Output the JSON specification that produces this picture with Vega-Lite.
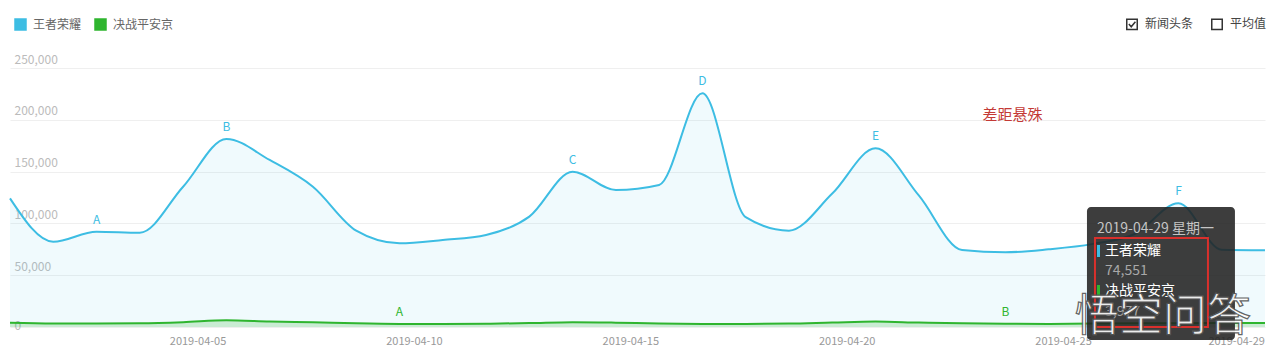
{
  "$schema": "https://vega.github.io/schema/vega-lite/v6.json",
  "width": 1255,
  "height": 259,
  "autosize": {"type": "none"},
  "padding": {"left": 10, "top": 68, "right": 11, "bottom": 29},
  "background": "white",
  "config": {"view": {"stroke": null}, "font": "Noto Sans CJK SC"},
  "datasets": {
    "series": [
      {"date": "2019-04-01T00:00:00", "series": "王者荣耀", "value": 124200},
      {"date": "2019-04-02T00:00:00", "series": "王者荣耀", "value": 82300},
      {"date": "2019-04-03T00:00:00", "series": "王者荣耀", "value": 92000},
      {"date": "2019-04-04T00:00:00", "series": "王者荣耀", "value": 91000},
      {"date": "2019-04-05T00:00:00", "series": "王者荣耀", "value": 135400},
      {"date": "2019-04-06T00:00:00", "series": "王者荣耀", "value": 181500},
      {"date": "2019-04-07T00:00:00", "series": "王者荣耀", "value": 161200},
      {"date": "2019-04-08T00:00:00", "series": "王者荣耀", "value": 135400},
      {"date": "2019-04-09T00:00:00", "series": "王者荣耀", "value": 93000},
      {"date": "2019-04-10T00:00:00", "series": "王者荣耀", "value": 80800},
      {"date": "2019-04-11T00:00:00", "series": "王者荣耀", "value": 84000},
      {"date": "2019-04-12T00:00:00", "series": "王者荣耀", "value": 88800},
      {"date": "2019-04-13T00:00:00", "series": "王者荣耀", "value": 106500},
      {"date": "2019-04-14T00:00:00", "series": "王者荣耀", "value": 149900},
      {"date": "2019-04-15T00:00:00", "series": "王者荣耀", "value": 132200},
      {"date": "2019-04-16T00:00:00", "series": "王者荣耀", "value": 137100},
      {"date": "2019-04-17T00:00:00", "series": "王者荣耀", "value": 225600},
      {"date": "2019-04-18T00:00:00", "series": "王者荣耀", "value": 106000},
      {"date": "2019-04-19T00:00:00", "series": "王者荣耀", "value": 93000},
      {"date": "2019-04-20T00:00:00", "series": "王者荣耀", "value": 128800},
      {"date": "2019-04-21T00:00:00", "series": "王者荣耀", "value": 172500},
      {"date": "2019-04-22T00:00:00", "series": "王者荣耀", "value": 127000},
      {"date": "2019-04-23T00:00:00", "series": "王者荣耀", "value": 74300},
      {"date": "2019-04-24T00:00:00", "series": "王者荣耀", "value": 72100},
      {"date": "2019-04-25T00:00:00", "series": "王者荣耀", "value": 75000},
      {"date": "2019-04-26T00:00:00", "series": "王者荣耀", "value": 80000},
      {"date": "2019-04-27T00:00:00", "series": "王者荣耀", "value": 90000},
      {"date": "2019-04-28T00:00:00", "series": "王者荣耀", "value": 119400},
      {"date": "2019-04-29T00:00:00", "series": "王者荣耀", "value": 74551},
      {"date": "2019-04-30T00:00:00", "series": "王者荣耀", "value": 74000},
      {"date": "2019-04-01T00:00:00", "series": "决战平安京", "value": 4000},
      {"date": "2019-04-02T00:00:00", "series": "决战平安京", "value": 3300},
      {"date": "2019-04-03T00:00:00", "series": "决战平安京", "value": 3300},
      {"date": "2019-04-04T00:00:00", "series": "决战平安京", "value": 3500},
      {"date": "2019-04-05T00:00:00", "series": "决战平安京", "value": 4600},
      {"date": "2019-04-06T00:00:00", "series": "决战平安京", "value": 6500},
      {"date": "2019-04-07T00:00:00", "series": "决战平安京", "value": 5300},
      {"date": "2019-04-08T00:00:00", "series": "决战平安京", "value": 4500},
      {"date": "2019-04-09T00:00:00", "series": "决战平安京", "value": 3500},
      {"date": "2019-04-10T00:00:00", "series": "决战平安京", "value": 3000},
      {"date": "2019-04-11T00:00:00", "series": "决战平安京", "value": 3000},
      {"date": "2019-04-12T00:00:00", "series": "决战平安京", "value": 3200},
      {"date": "2019-04-13T00:00:00", "series": "决战平安京", "value": 3800},
      {"date": "2019-04-14T00:00:00", "series": "决战平安京", "value": 4700},
      {"date": "2019-04-15T00:00:00", "series": "决战平安京", "value": 4200},
      {"date": "2019-04-16T00:00:00", "series": "决战平安京", "value": 3300},
      {"date": "2019-04-17T00:00:00", "series": "决战平安京", "value": 3000},
      {"date": "2019-04-18T00:00:00", "series": "决战平安京", "value": 3000},
      {"date": "2019-04-19T00:00:00", "series": "决战平安京", "value": 3300},
      {"date": "2019-04-20T00:00:00", "series": "决战平安京", "value": 4300},
      {"date": "2019-04-21T00:00:00", "series": "决战平安京", "value": 5200},
      {"date": "2019-04-22T00:00:00", "series": "决战平安京", "value": 4300},
      {"date": "2019-04-23T00:00:00", "series": "决战平安京", "value": 3600},
      {"date": "2019-04-24T00:00:00", "series": "决战平安京", "value": 3200},
      {"date": "2019-04-25T00:00:00", "series": "决战平安京", "value": 3000},
      {"date": "2019-04-26T00:00:00", "series": "决战平安京", "value": 3300},
      {"date": "2019-04-27T00:00:00", "series": "决战平安京", "value": 3600},
      {"date": "2019-04-28T00:00:00", "series": "决战平安京", "value": 3700},
      {"date": "2019-04-29T00:00:00", "series": "决战平安京", "value": 3977},
      {"date": "2019-04-30T00:00:00", "series": "决战平安京", "value": 3800}
    ],
    "letters": [
      {"date": "2019-04-03T00:00:00", "series": "王者荣耀", "value": 92000, "label": "A"},
      {"date": "2019-04-06T00:00:00", "series": "王者荣耀", "value": 181500, "label": "B"},
      {"date": "2019-04-14T00:00:00", "series": "王者荣耀", "value": 149900, "label": "C"},
      {"date": "2019-04-17T00:00:00", "series": "王者荣耀", "value": 225600, "label": "D"},
      {"date": "2019-04-21T00:00:00", "series": "王者荣耀", "value": 172500, "label": "E"},
      {"date": "2019-04-28T00:00:00", "series": "王者荣耀", "value": 119400, "label": "F"},
      {"date": "2019-04-10T00:00:00", "series": "决战平安京", "value": 3000, "label": "A"},
      {"date": "2019-04-24T00:00:00", "series": "决战平安京", "value": 3200, "label": "B"}
    ]
  },
  "layer": [
    {
      "data": {"name": "series"},
      "transform": [{"filter": "datum.series === '王者荣耀'"}],
      "mark": {"type": "area", "interpolate": "monotone", "fillOpacity": 0.08},
      "encoding": {
        "x": {
          "field": "date", "type": "temporal", "title": null,
          "scale": {"domain": [{"year": 2019, "month": 4, "date": 1}, {"year": 2019, "month": 4, "date": 30}]},
          "axis": {
            "values": [
              {"year": 2019, "month": 4, "date": 5, "hours": 8},
              {"year": 2019, "month": 4, "date": 10, "hours": 8},
              {"year": 2019, "month": 4, "date": 15, "hours": 8},
              {"year": 2019, "month": 4, "date": 20, "hours": 8},
              {"year": 2019, "month": 4, "date": 25, "hours": 8},
              {"year": 2019, "month": 4, "date": 29, "hours": 8}
            ],
            "format": "%Y-%m-%d", "grid": false, "domain": false, "ticks": false,
            "labelPadding": 8, "labelFontSize": 11, "labelColor": "#999999", "labelFlush": false, "labelOverlap": false
          }
        },
        "y": {
          "field": "value", "type": "quantitative", "title": null, "stack": null,
          "scale": {"domain": [0, 250000], "nice": false},
          "axis": {
            "values": [0, 50000, 100000, 150000, 200000, 250000],
            "format": ",d", "grid": true, "gridColor": "#efefef", "domain": false, "ticks": false,
            "labelAlign": "left", "labelBaseline": "bottom", "labelPadding": -4,
            "labelOffset": {"condition": {"test": "datum.value === 0", "value": 5}, "value": -2},
            "labelFontSize": 12, "labelColor": "#bbbbbb", "zindex": 0
          }
        },
        "color": {
          "field": "series", "type": "nominal",
          "scale": {"domain": ["王者荣耀", "决战平安京"], "range": ["#3dbde3", "#2fb52f"]},
          "legend": {
            "orient": "none", "legendX": 4, "legendY": -50, "direction": "horizontal", "title": null,
            "symbolType": "square", "symbolSize": 121, "labelFontSize": 12, "labelColor": "#666666",
            "labelOffset": 6, "columnPadding": 10, "padding": 0,
            "encode": {"symbols": {"update": {"fill": {"scale": "color", "field": "value"}, "stroke": {"value": "transparent"}, "opacity": {"value": 1}, "fillOpacity": {"value": 1}, "shape": {"value": "square"}}}}
          }
        }
      }
    },
    {
      "data": {"name": "series"},
      "transform": [{"filter": "datum.series === '决战平安京'"}],
      "mark": {"type": "area", "interpolate": "monotone", "fillOpacity": 0.2},
      "encoding": {
        "x": {"field": "date", "type": "temporal", "title": null},
        "y": {"field": "value", "type": "quantitative", "title": null, "stack": null},
        "color": {"field": "series", "type": "nominal"}
      }
    },
    {
      "data": {"name": "series"},
      "mark": {"type": "line", "interpolate": "monotone", "strokeWidth": 2},
      "encoding": {
        "x": {"field": "date", "type": "temporal", "title": null},
        "y": {"field": "value", "type": "quantitative", "title": null},
        "color": {"field": "series", "type": "nominal"}
      }
    },
    {
      "data": {"name": "letters"},
      "mark": {"type": "text", "fontSize": 12, "dy": -12, "align": "center", "baseline": "middle"},
      "encoding": {
        "x": {"field": "date", "type": "temporal", "title": null},
        "y": {"field": "value", "type": "quantitative", "title": null},
        "color": {"field": "series", "type": "nominal"},
        "text": {"field": "label"}
      }
    },
    {
      "data": {"values": [{"x": "2019-04-24T04:00:00", "v": 204600, "t": "差距悬殊"}]},
      "mark": {"type": "text", "fontSize": 15, "color": "#c43a36", "align": "center", "baseline": "middle"},
      "encoding": {
        "x": {"field": "x", "type": "temporal", "title": null},
        "y": {"field": "v", "type": "quantitative", "title": null},
        "text": {"field": "t"}
      }
    },
    {
      "data": {"values": [{"x0": "2019-04-25T21:16:00", "x1": "2019-04-29T07:20:00", "v0": 115840, "v1": -12550}]},
      "mark": {"type": "rect", "color": "#222222", "opacity": 0.88, "cornerRadius": 4},
      "encoding": {
        "x": {"field": "x0", "type": "temporal", "title": null},
        "x2": {"field": "x1"},
        "y": {"field": "v0", "type": "quantitative", "title": null},
        "y2": {"field": "v1"}
      }
    },
    {
      "data": {"values": [
        {"x0": "2019-04-26T02:50:00", "x1": "2019-04-26T04:29:00", "v0": 79150, "v1": 67570, "series": "王者荣耀"},
        {"x0": "2019-04-26T02:50:00", "x1": "2019-04-26T04:29:00", "v0": 40540, "v1": 28960, "series": "决战平安京"}
      ]},
      "mark": {"type": "rect"},
      "encoding": {
        "x": {"field": "x0", "type": "temporal", "title": null},
        "x2": {"field": "x1"},
        "y": {"field": "v0", "type": "quantitative", "title": null},
        "y2": {"field": "v1"},
        "color": {"field": "series", "type": "nominal"}
      }
    },
    {
      "data": {"values": [{"x": "2019-04-26T02:50:00", "v": 94600, "t": "2019-04-29 星期一"}]},
      "mark": {"type": "text", "fontSize": 14, "color": "#c4c4c4", "align": "left", "baseline": "middle"},
      "encoding": {
        "x": {"field": "x", "type": "temporal", "title": null},
        "y": {"field": "v", "type": "quantitative", "title": null},
        "text": {"field": "t"}
      }
    },
    {
      "data": {"values": [
        {"x": "2019-04-26T07:15:00", "v": 73360, "t": "王者荣耀"},
        {"x": "2019-04-26T07:15:00", "v": 34750, "t": "决战平安京"}
      ]},
      "mark": {"type": "text", "fontSize": 14, "color": "#ffffff", "align": "left", "baseline": "middle"},
      "encoding": {
        "x": {"field": "x", "type": "temporal", "title": null},
        "y": {"field": "v", "type": "quantitative", "title": null},
        "text": {"field": "t"}
      }
    },
    {
      "data": {"values": [
        {"x": "2019-04-26T07:15:00", "v": 54060, "t": "74,551"},
        {"x": "2019-04-26T07:15:00", "v": 14480, "t": "3,977"}
      ]},
      "mark": {"type": "text", "fontSize": 14, "color": "#a8a8a8", "align": "left", "baseline": "middle"},
      "encoding": {
        "x": {"field": "x", "type": "temporal", "title": null},
        "y": {"field": "v", "type": "quantitative", "title": null},
        "text": {"field": "t"}
      }
    },
    {
      "data": {"values": [{"x0": "2019-04-26T01:42:00", "x1": "2019-04-28T16:22:00", "v0": 85910, "v1": 0}]},
      "mark": {"type": "rect", "fill": "transparent", "stroke": "#d9302c", "strokeWidth": 2},
      "encoding": {
        "x": {"field": "x0", "type": "temporal", "title": null},
        "x2": {"field": "x1"},
        "y": {"field": "v0", "type": "quantitative", "title": null},
        "y2": {"field": "v1"}
      }
    },
    {
      "data": {"values": [{"x": "2019-04-27T15:23:00", "v": 8690, "t": "悟空问答"}]},
      "mark": {"type": "text", "fontSize": 44, "fill": "#ffffff", "stroke": "#555555", "strokeWidth": 1.2, "opacity": 0.9, "align": "center", "baseline": "middle"},
      "encoding": {
        "x": {"field": "x", "type": "temporal", "title": null},
        "y": {"field": "v", "type": "quantitative", "title": null},
        "text": {"field": "t"}
      }
    },
    {
      "data": {"values": [{"option": "新闻头条"}, {"option": "平均值"}]},
      "mark": {"type": "point", "filled": false, "color": "#333333", "opacity": 0},
      "encoding": {
        "shape": {
          "field": "option", "type": "nominal",
          "scale": {"domain": ["新闻头条", "平均值"], "range": ["M-1,-1L1,-1L1,1L-1,1Z M-0.6,-0.05L-0.15,0.45L0.65,-0.5", "M-1,-1L1,-1L1,1L-1,1Z"]},
          "legend": {
            "orient": "none", "legendX": 1116, "legendY": -50, "direction": "horizontal", "title": null,
            "symbolSize": 110, "labelFontSize": 12, "labelColor": "#444444", "labelOffset": 7,
            "columnPadding": 14, "padding": 0,
            "encode": {"symbols": {"update": {"stroke": {"value": "#333333"}, "fill": {"value": "transparent"}, "opacity": {"value": 1}, "strokeWidth": {"value": 1}}}}
          }
        }
      }
    }
  ]
}
